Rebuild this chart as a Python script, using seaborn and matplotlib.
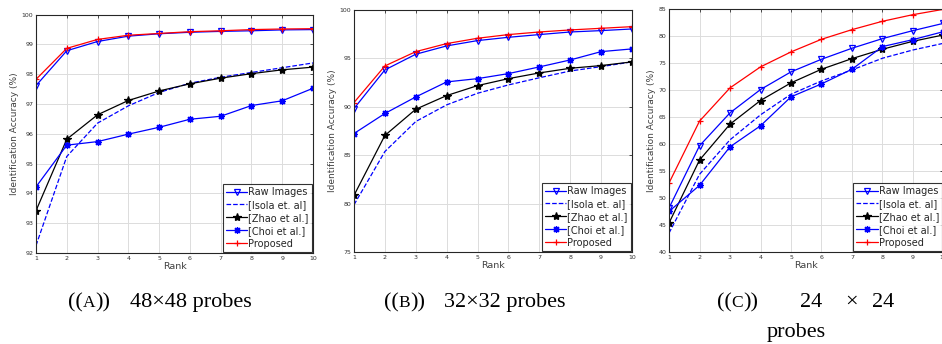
import numpy as np
import pandas as pd
import matplotlib
matplotlib.use("Agg")
import matplotlib.pyplot as plt
import seaborn as sns

ranks = list(range(1, 11))
methods = ["Raw Images", "[Isola et. al]", "[Zhao et al.]", "[Choi et al.]", "Proposed"]

# Panel A: 48x48 probes
a_raw = [97.62, 98.79, 99.10, 99.28, 99.36, 99.41, 99.44, 99.46, 99.49, 99.50]
a_isola = [92.25, 95.24, 96.36, 96.94, 97.39, 97.70, 97.90, 98.06, 98.22, 98.38]
a_zhao = [93.42, 95.82, 96.64, 97.12, 97.44, 97.68, 97.87, 98.02, 98.15, 98.24]
a_choi = [94.22, 95.62, 95.74, 95.99, 96.22, 96.49, 96.59, 96.95, 97.11, 97.53]
a_prop = [97.83, 98.87, 99.17, 99.31, 99.37, 99.43, 99.46, 99.50, 99.52, 99.53]

# Panel B: 32x32 probes
b_raw = [89.82, 93.81, 95.43, 96.29, 96.84, 97.18, 97.46, 97.73, 97.87, 98.04]
b_isola = [79.88, 85.38, 88.48, 90.20, 91.40, 92.26, 93.00, 93.70, 94.15, 94.64]
b_zhao = [80.85, 87.04, 89.75, 91.16, 92.19, 92.91, 93.50, 93.98, 94.26, 94.64]
b_choi = [87.24, 89.31, 91.02, 92.57, 92.91, 93.43, 94.12, 94.84, 95.70, 95.98]
b_prop = [90.44, 94.22, 95.70, 96.53, 97.08, 97.46, 97.73, 97.94, 98.11, 98.28]

# Panel C: 24x24 probes
c_raw = [48.15, 59.69, 65.80, 70.12, 73.40, 75.74, 77.78, 79.57, 81.05, 82.40]
c_isola = [43.50, 54.40, 60.80, 65.43, 69.26, 71.72, 73.76, 75.93, 77.46, 78.70]
c_zhao = [45.37, 57.04, 63.70, 68.09, 71.36, 73.89, 75.86, 77.60, 79.07, 80.25]
c_choi = [47.53, 52.35, 59.50, 63.40, 68.77, 71.17, 73.89, 78.09, 79.38, 80.86]
c_prop = [52.78, 64.26, 70.43, 74.32, 77.10, 79.44, 81.23, 82.78, 84.01, 85.00]

yticks_a = [92, 93, 94, 95, 96, 97, 98, 99, 100]
yticks_b = [75, 80, 85, 90, 95, 100]
yticks_c = [40, 45, 50, 55, 60, 65, 70, 75, 80, 85]

panel_letters = ["A", "B", "C"]
caption_sizes = ["48\u00d748 probes", "32\u00d732 probes", None]

styles = {
    "Raw Images": dict(color="#0000ff", marker="v", linestyle="-", mfc="none"),
    "[Isola et. al]": dict(color="#0000ff", marker=None, linestyle="--", mfc=None),
    "[Zhao et al.]": dict(color="black", marker="*", linestyle="-", mfc="black"),
    "[Choi et al.]": dict(color="#0000ff", marker=(8, 2, 0), linestyle="-", mfc=None),
    "Proposed": dict(color="#ff0000", marker="+", linestyle="-", mfc=None),
}

sns.set_theme(style="white")
plt.rcParams["font.family"] = ["DejaVu Sans"]

W, H = 942, 344
fig = plt.figure(figsize=(W / 100, H / 100), dpi=100)
renderer = fig.canvas.get_renderer()

boxes = [(36, 313, 14.7, 253), (354, 632, 10, 252), (669, 943.5, 9.3, 252)]
panels = [
    (dict(zip(methods, [a_raw, a_isola, a_zhao, a_choi, a_prop])), yticks_a),
    (dict(zip(methods, [b_raw, b_isola, b_zhao, b_choi, b_prop])), yticks_b),
    (dict(zip(methods, [c_raw, c_isola, c_zhao, c_choi, c_prop])), yticks_c),
]

SERIF = "Liberation Serif"
CAP_FS = 16


def put(x, y, s, fs=CAP_FS, ha="left"):
    t = fig.text(x / W, 1 - y / H, s, ha=ha, va="baseline", fontsize=fs, family=SERIF,
                 color="black")
    ext = t.get_window_extent(renderer)
    return ext.x1


def label_piece(x, y, letter):
    x = put(x, y, "((")
    x = put(x, y, letter, fs=CAP_FS * 0.78)
    x = put(x, y, "))")
    return x


for (l, r, t, b), (series, yt) in zip(boxes, panels):
    ax = fig.add_axes([l / W, 1 - b / H, (r - l) / W, (b - t) / H])
    for m in methods:
        df = pd.DataFrame({"Rank": ranks, "acc": series[m]})
        st = styles[m]
        kw = dict(color=st["color"], linestyle=st["linestyle"], linewidth=0.9,
                  label=m, ax=ax)
        if st["marker"] is not None:
            kw.update(marker=st["marker"], markersize=5 if st["marker"] != "*" else 6,
                      markeredgecolor=st["color"], markeredgewidth=0.9)
            if st["mfc"] is not None:
                kw.update(markerfacecolor=st["mfc"])
        sns.lineplot(data=df, x="Rank", y="acc", **kw)
    ax.set_xlim(1, 10)
    ax.set_ylim(yt[0], yt[-1])
    ax.set_xticks(ranks)
    ax.set_yticks(yt)
    ax.tick_params(direction="in", top=True, right=True, labelsize=4.5,
                   length=2.5, width=0.6, pad=2, colors="#303030")
    ax.grid(True, color="#dcdcdc", linewidth=0.7)
    for s in ax.spines.values():
        s.set_color("#262626")
        s.set_linewidth(0.8)
    ax.set_xlabel("Rank", fontsize=6.8, labelpad=1, color="#404040")
    ax.set_ylabel("Identification Accuracy (%)", fontsize=6.5, labelpad=2, color="#404040")
    leg = ax.legend(loc="lower right", fontsize=7, frameon=True, fancybox=False,
                    edgecolor="black", handlelength=2.2, borderaxespad=0.15,
                    borderpad=0.3, labelspacing=0.3, handletextpad=0.1)
    leg.get_frame().set_linewidth(0.8)

# captions
BASE = 307
label_piece(68, BASE, panel_letters[0])
put(130, BASE, caption_sizes[0])
label_piece(384, BASE, panel_letters[1])
put(444, BASE, caption_sizes[1])
label_piece(717, BASE, panel_letters[2])
put(800, BASE, "24")
put(851, BASE, "\u00d7", ha="center")
put(872, BASE, "24")
put(767, 337, "probes")

fig.savefig("out.png", dpi=100)
